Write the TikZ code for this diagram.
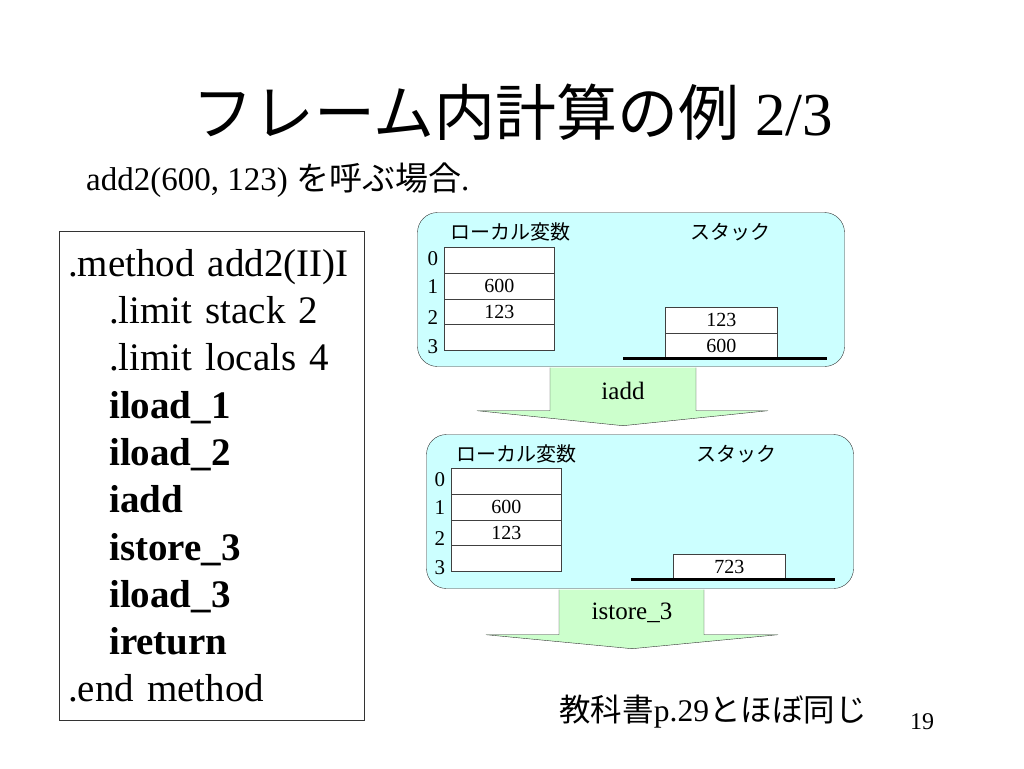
\documentclass[tikz,border=0pt]{standalone}
\usepackage{fontspec}
\setmainfont{Liberation Serif}
\newfontfamily\jp{Noto Sans CJK JP}
\usepackage{xcolor}
\usetikzlibrary{positioning,calc}
\definecolor{frm}{HTML}{CCFFFF}
\definecolor{arw}{HTML}{CCFFCC}

\begin{document}
\begin{tikzpicture}[x=1pt, y=-1pt,
  frame/.style={draw=black!80, rounded corners=20pt, fill=frm, minimum width=427pt,
                minimum height=154pt, inner sep=0pt},
  cell/.style={draw=black!75, fill=white, minimum width=110pt, minimum height=25.75pt,
               inner sep=0pt, outer sep=0pt, font=\fontsize{20}{20}\selectfont},
  stk/.style={cell, minimum width=112pt, minimum height=25.5pt},
  idx/.style={inner sep=0pt, font=\fontsize{21}{21}\selectfont},
  hdr/.style={inner sep=0pt, font=\jp\fontsize{20}{20}\selectfont},
  base/.style={line width=3pt},
  blk/.style={draw=black!80, fill=arw},
  opname/.style={inner sep=0pt, font=\fontsize{25}{25}\selectfont}
]
  \useasboundingbox (0,0) rectangle (1024,768);

  \node (title) at (513,112) {\fontsize{61}{61}\selectfont{\jp フレーム内計算の例} 2/3};
  \node[anchor=west, inner sep=0pt] (sub) at (86,180)
    {\fontsize{33}{33}\selectfont add2(600, 123) {\jp を呼ぶ場合}.};

  % bytecode listing
  \node[draw=black!80, anchor=north west, text width=287pt, inner xsep=9pt, inner ysep=18pt,
        align=left, font=\fontsize{39}{47.3}\selectfont] (code) at (59,231)
    {.method add2(II)I\\
     \hspace*{41pt}.limit stack 2\\
     \hspace*{41pt}.limit locals 4\\
     \hspace*{41pt}\textbf{iload\_1}\\
     \hspace*{41pt}\textbf{iload\_2}\\
     \hspace*{41pt}\textbf{iadd}\\
     \hspace*{41pt}\textbf{istore\_3}\\
     \hspace*{41pt}\textbf{iload\_3}\\
     \hspace*{41pt}\textbf{ireturn}\\
     .end method};

  % frame before iadd
  \node[frame] (f1) at (631,289.5) {};
  \node[hdr] (lv1) at ($(f1.north west)+(93,20)$) {ローカル変数};
  \node[hdr] (st1) at ($(f1.north west)+(313,20)$) {スタック};
  \node[cell] (a10) at ($(f1.north west)+(82,48)$) {};
  \node[cell, below=0pt of a10] (a11) {600};
  \node[cell, below=0pt of a11] (a12) {123};
  \node[cell, below=0pt of a12] (a13) {};
  \node[idx, left=6pt of a10, yshift=2pt] (i10) {0};
  \node[idx, left=6pt of a11, yshift=-1pt] (i11) {1};
  \node[idx, left=6pt of a12, yshift=-6pt] (i12) {2};
  \node[idx, left=6pt of a13, yshift=-9pt] (i13) {3};
  \node[stk, anchor=south] (s11) at ($(f1.north west)+(304,146)$) {600};
  \node[stk, above=0pt of s11] (s12) {123};
  \draw[base] ($(s11.south)+(-98,0)$) -- ($(s11.south)+(106,0)$);

  \draw[blk] ($(f1.south)+(-81,1)$) -- ($(f1.south)+(-81,44)$) -- ($(f1.south)+(-154,44)$)
    -- ($(f1.south)+(-8,59)$) -- ($(f1.south)+(137,44)$) -- ($(f1.south)+(65,44)$)
    -- ($(f1.south)+(65,1)$);
  \node[opname] (op1) at ($(f1.south)+(-8,24)$) {iadd};

  % frame after iadd
  \node[frame] (f2) at (640,511.5) {};
  \node[hdr] (lv2) at ($(f2.north west)+(90,20)$) {ローカル変数};
  \node[hdr] (st2) at ($(f2.north west)+(310,20)$) {スタック};
  \node[cell] (a20) at ($(f2.north west)+(80,47)$) {};
  \node[cell, below=0pt of a20] (a21) {600};
  \node[cell, below=0pt of a21] (a22) {123};
  \node[cell, below=0pt of a22] (a23) {};
  \node[idx, left=6pt of a20, yshift=2pt] (i20) {0};
  \node[idx, left=6pt of a21, yshift=-1pt] (i21) {1};
  \node[idx, left=6pt of a22, yshift=-6pt] (i22) {2};
  \node[idx, left=6pt of a23, yshift=-9pt] (i23) {3};
  \node[stk, anchor=south] (s21) at ($(f2.north west)+(303,145)$) {723};
  \draw[base] ($(s21.south)+(-98,0)$) -- ($(s21.south)+(106,0)$);

  \draw[blk] ($(f2.south)+(-81,1)$) -- ($(f2.south)+(-81,46)$) -- ($(f2.south)+(-154,46)$)
    -- ($(f2.south)+(-8,60)$) -- ($(f2.south)+(138,46)$) -- ($(f2.south)+(64,46)$)
    -- ($(f2.south)+(64,1)$);
  \node[opname] (op2) at ($(f2.south)+(-8,24)$) {istore\_3};

  \node (note) at (713,712) {\fontsize{31.5}{31.5}\selectfont{\jp 教科書}p.29{\jp とほぼ同じ}};
  \node (page) at (922,722) {\fontsize{24}{24}\selectfont 19};
\end{tikzpicture}
\end{document}
